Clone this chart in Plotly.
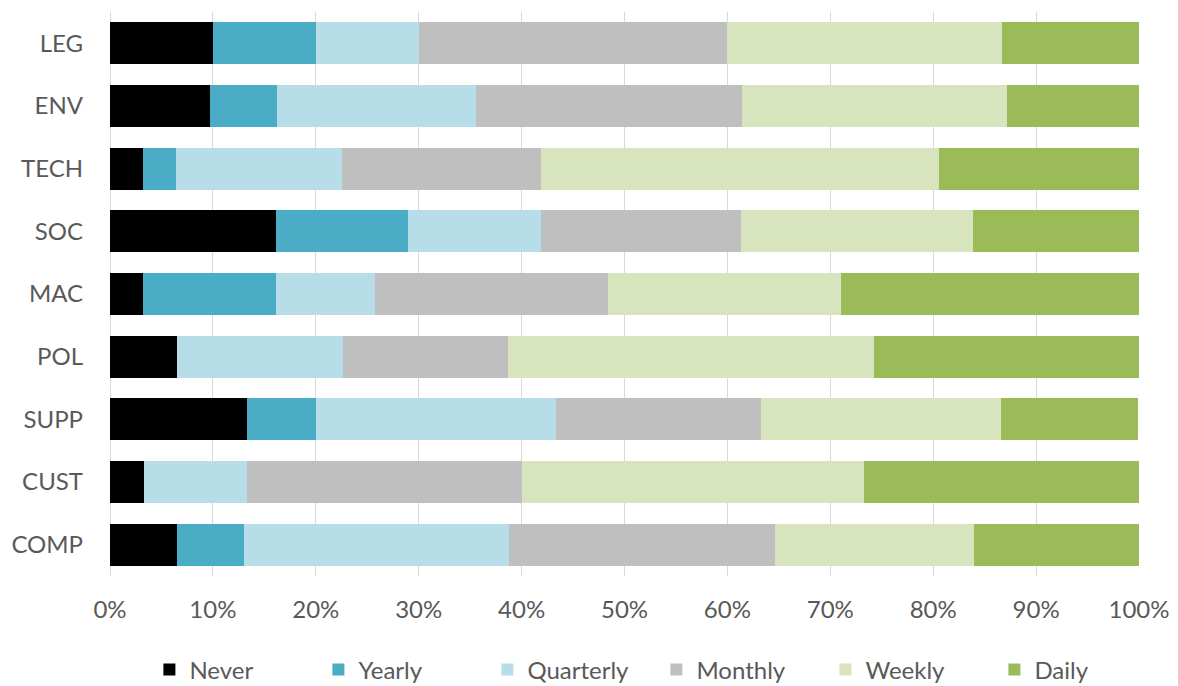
import plotly.graph_objects as go

categories = ["LEG", "ENV", "TECH", "SOC", "MAC", "POL", "SUPP", "CUST", "COMP"]
never = [10.0, 9.7, 3.2, 16.1, 3.2, 6.5, 13.3, 3.3, 6.5]
yearly = [10.0, 6.5, 3.2, 12.9, 12.9, 0.0, 6.7, 0.0, 6.5]
quarterly = [10.0, 19.4, 16.1, 12.9, 9.7, 16.1, 23.3, 10.0, 25.8]
monthly = [30.0, 25.8, 19.4, 19.4, 22.6, 16.1, 20.0, 26.7, 25.8]
weekly = [26.7, 25.8, 38.7, 22.6, 22.6, 35.5, 23.3, 33.3, 19.4]
daily = [13.3, 12.9, 19.4, 16.1, 29.0, 25.8, 13.3, 26.7, 16.1]

series_names = ["Never", "Yearly", "Quarterly", "Monthly", "Weekly", "Daily"]
series_values = [never, yearly, quarterly, monthly, weekly, daily]
colors = ["#000000", "#4bacc6", "#b7dee8", "#bfbfbf", "#d7e4bd", "#9bbb59"]

x_tickvals = [0, 10, 20, 30, 40, 50, 60, 70, 80, 90, 100]
x_ticktext = ["0%", "10%", "20%", "30%", "40%", "50%", "60%", "70%", "80%", "90%", "100%"]

fig = go.Figure()
for name, vals, col in zip(series_names, series_values, colors):
    fig.add_trace(go.Bar(
        y=categories, x=vals, name=name, orientation="h",
        marker=dict(color=col, line=dict(width=0)),
    ))

font_family = "Lato, 'Open Sans', sans-serif"
fig.update_layout(
    barmode="stack",
    bargap=0.33,
    width=1178, height=686,
    margin=dict(l=110, r=39, t=12, b=110),
    paper_bgcolor="white",
    plot_bgcolor="white",
    font=dict(family=font_family, size=24, color="#595959"),
    legend=dict(
        orientation="h", x=0.531, xanchor="center",
        yref="container", y=1 - 670 / 686, yanchor="middle",
        traceorder="normal", font=dict(size=24, color="#595959"),
        itemclick=False, entrywidth=124, entrywidthmode="pixels",
    ),
    xaxis=dict(
        range=[0, 100], tickvals=x_tickvals, ticktext=x_ticktext,
        showgrid=True, gridcolor="#d9d9d9", gridwidth=1,
        zeroline=True, zerolinecolor="#d9d9d9", zerolinewidth=1,
        showline=False, ticks="", ticklabelstandoff=17, automargin=False,
        tickfont=dict(size=24, color="#595959"),
    ),
    yaxis=dict(
        categoryorder="array", categoryarray=categories, autorange="reversed",
        showgrid=False, zeroline=False, showline=False, ticks="",
        ticklabelstandoff=26, automargin=False,
        tickfont=dict(size=24, color="#595959"),
    ),
)

fig.write_html("out.html")
